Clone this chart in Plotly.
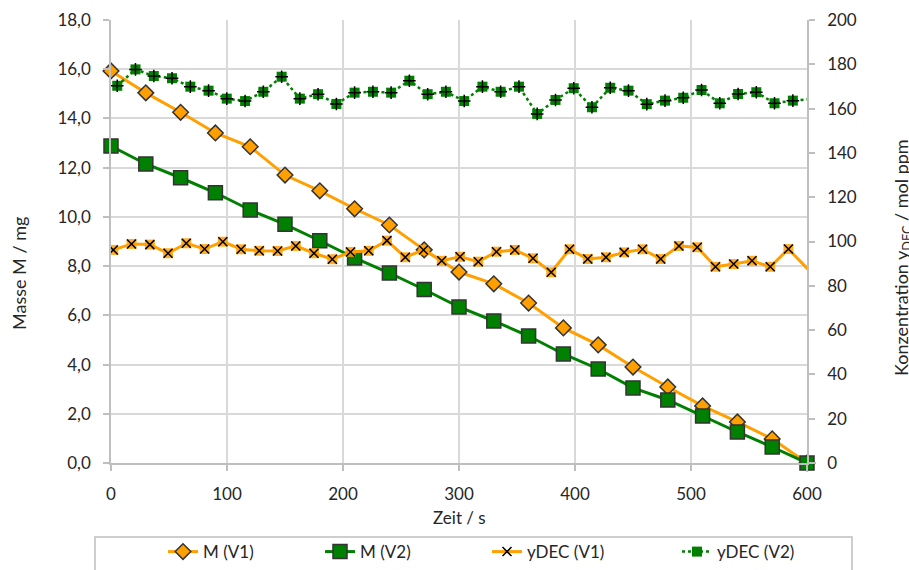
import plotly.graph_objects as go

# ---------------- data ----------------
t_mass = [0, 30, 60, 90, 120, 150, 180, 210, 240, 270, 300, 330, 360, 390, 420,
          450, 480, 510, 540, 570, 600]
m_v1 = [15.93, 15.04, 14.25, 13.41, 12.85, 11.70, 11.06, 10.33, 9.67, 8.66, 7.76,
        7.28, 6.50, 5.49, 4.80, 3.90, 3.09, 2.32, 1.67, 0.98, 0.00]
m_v2 = [12.88, 12.15, 11.59, 10.98, 10.28, 9.70, 9.03, 8.33, 7.72, 7.05, 6.34,
        5.77, 5.16, 4.43, 3.82, 3.05, 2.56, 1.91, 1.26, 0.65, 0.00]

t_dec_v1 = [2.0, 17.7, 33.5, 49.2, 64.9, 80.7, 96.4, 112.1, 127.8, 143.6, 159.3,
            175.0, 190.8, 206.5, 222.2, 237.9, 253.7, 269.4, 285.1, 300.9, 316.6,
            332.3, 348.1, 363.8, 379.5, 395.3, 411.0, 426.7, 442.4, 458.2, 473.9,
            489.6, 505.4, 521.1, 536.8, 552.6, 568.3, 584.0, 605.0]
y_dec_v1 = [96.2, 98.9, 98.6, 94.7, 99.2, 96.6, 99.9, 96.5, 95.8, 95.7,
            98.0, 94.7, 92.0, 95.3, 95.8, 100.4, 92.9, 96.2, 91.3,
            93.1, 90.9, 95.4, 96.2, 92.4, 86.1, 96.5, 92.1, 92.9, 95.1,
            96.5, 92.1, 98.0, 97.4, 88.6, 89.8, 91.3, 88.6, 96.6, 85.2]

t_dec_v2 = [5.4, 21.1, 36.9, 52.6, 68.4, 84.1, 99.8, 115.6, 131.3, 147.1, 162.8,
            178.5, 194.3, 210.0, 225.8, 241.5, 257.2, 273.0, 288.7, 304.5, 320.2,
            335.9, 351.7, 367.4, 383.2, 398.9, 414.6, 430.4, 446.1, 461.9, 477.6,
            493.3, 509.1, 524.8, 540.6, 556.3, 572.0, 587.8, 606.0]
y_dec_v2 = [170.3, 177.7, 174.7, 173.7, 169.9, 168.1, 164.5, 163.4, 167.6, 174.4,
            164.5, 166.5, 162.1, 167.2, 167.6, 167.2, 172.6, 166.5, 167.6,
            163.4, 169.9, 167.6, 169.9, 157.6, 163.9, 169.2, 160.6, 169.4, 168.1,
            162.0, 163.6, 164.9, 168.4, 162.4, 166.6, 167.4, 162.4, 163.6, 164.45]

x_ticks = [0, 100, 200, 300, 400, 500, 600]
y1_ticks = [0, 2, 4, 6, 8, 10, 12, 14, 16, 18]
y2_ticks = [0, 20, 40, 60, 80, 100, 120, 140, 160, 180, 200]

# ---------------- style ----------------
ORANGE = "#FFA000"
GREEN = "#008000"
EDGE = "#333333"
GRID = "#d9d9d9"
AXIS = "#bfbfbf"
TXT = "#262626"
FONT = "Lato"
FS = 17

fig = go.Figure()

fig.add_trace(go.Scatter(
    x=t_mass, y=m_v1, name="M (V1)", mode="lines+markers",
    line=dict(color=ORANGE, width=3),
    marker=dict(symbol="diamond", size=12, color=ORANGE,
                line=dict(color=EDGE, width=1.5)),
    cliponaxis=False, legend="legend"))

fig.add_trace(go.Scatter(
    x=t_mass, y=m_v2, name="M (V2)", mode="lines+markers",
    line=dict(color=GREEN, width=3),
    marker=dict(symbol="square", size=14, color=GREEN,
                line=dict(color=EDGE, width=1.5)),
    cliponaxis=False, legend="legend2"))

# yDEC (V1): orange square background + black x
fig.add_trace(go.Scatter(
    x=t_dec_v1, y=y_dec_v1, mode="markers", yaxis="y2", showlegend=False,
    marker=dict(symbol="square", size=10, color=ORANGE, opacity=0.85),
    hoverinfo="skip"))
fig.add_trace(go.Scatter(
    x=t_dec_v1, y=y_dec_v1, name="yDEC (V1)", mode="lines+markers", yaxis="y2",
    line=dict(color=ORANGE, width=3),
    marker=dict(symbol="x-thin-open", size=9, color="#000000",
                line=dict(color="#000000", width=1.5)),
    legend="legend3"))

# yDEC (V2): green square with dotted line + black cross overlay
fig.add_trace(go.Scatter(
    x=t_dec_v2, y=y_dec_v2, name="yDEC (V2)", mode="lines+markers", yaxis="y2",
    line=dict(color=GREEN, width=2.5, dash="dot"),
    marker=dict(symbol="square", size=10, color=GREEN),
    legend="legend4"))
fig.add_trace(go.Scatter(
    x=t_dec_v2, y=y_dec_v2, mode="markers", yaxis="y2", showlegend=False,
    marker=dict(symbol="cross-thin-open", size=9, color="#000000",
                line=dict(color="#000000", width=1.5)),
    hoverinfo="skip"))

axis_common = dict(
    showline=True, linecolor=AXIS, linewidth=1.5,
    ticks="outside", ticklen=6, tickcolor=AXIS, tickwidth=1.5,
    tickfont=dict(family=FONT, size=FS, color=TXT),
    zeroline=False, automargin=False,
)

legend_common = dict(
    orientation="h", yanchor="middle", y=-0.201, xanchor="left",
    bgcolor="rgba(0,0,0,0)", borderwidth=0,
    font=dict(family=FONT, size=FS, color=TXT),
    itemclick=False, itemdoubleclick=False,
)

fig.update_layout(
    width=909, height=570,
    margin=dict(l=111, r=102, t=20, b=107, autoexpand=False),
    paper_bgcolor="white", plot_bgcolor="white",
    separators=",.",
    font=dict(family=FONT, size=FS, color=TXT),
    xaxis=dict(range=[0, 600], tickvals=x_ticks, showgrid=True, gridcolor=GRID,
               gridwidth=1.5, ticklabelstandoff=9, **axis_common),
    yaxis=dict(range=[0, 18], tickvals=y1_ticks, tickformat=".1f", showgrid=True,
               gridcolor=GRID, gridwidth=1.5, ticklabelstandoff=9, **axis_common),
    yaxis2=dict(range=[0, 200], tickvals=y2_ticks, overlaying="y", side="right",
                showgrid=False, ticklabelstandoff=9, **axis_common),
    legend=dict(x=(163 - 111) / 696, **legend_common),
    legend2=dict(x=(320 - 111) / 696, **legend_common),
    legend3=dict(x=(487 - 111) / 696, **legend_common),
    legend4=dict(x=(677 - 111) / 696, **legend_common),
    annotations=[
        dict(text="Masse M / mg", xref="paper", yref="paper", x=(19 - 111) / 696,
             y=(463 - 274) / 443, textangle=-90, showarrow=False,
             xanchor="center", yanchor="middle",
             font=dict(family=FONT, size=18, color=TXT)),
        dict(text="Konzentration y<sub>DEC</sub> / mol ppm", xref="paper", yref="paper",
             x=(902 - 111) / 696, y=(463 - 258) / 443, textangle=-90, showarrow=False,
             xanchor="center", yanchor="middle",
             font=dict(family=FONT, size=18, color=TXT)),
        dict(text="Zeit / s", xref="paper", yref="paper", x=0.5,
             y=-(517 - 463) / 443, showarrow=False, xanchor="center",
             yanchor="middle", font=dict(family=FONT, size=FS, color=TXT)),
    ],
    shapes=[
        dict(type="rect", xref="paper", yref="paper",
             x0=(95 - 111) / 696, x1=(852 - 111) / 696,
             y0=-(537 - 463) / 443, y1=-(590 - 463) / 443,
             line=dict(color=AXIS, width=1.5), fillcolor="rgba(0,0,0,0)",
             layer="below"),
    ],
)

fig.write_html("out.html",
               config={"displayModeBar": False},
               post_script="document.body.style.margin='0px';"
                           "document.body.style.overflow='hidden';")
